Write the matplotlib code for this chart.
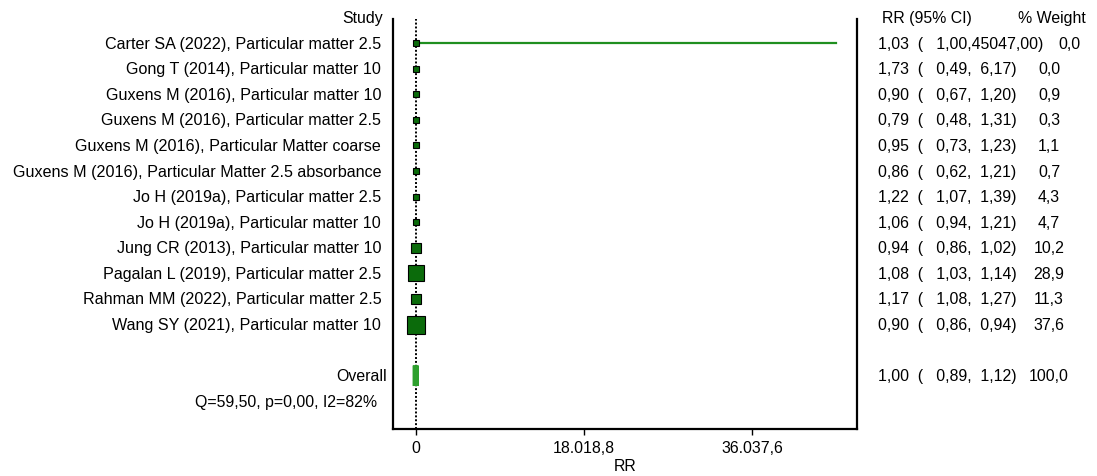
#Forest plot: contaminación del aire (PM) y RR
import matplotlib.pyplot as plt
import numpy as np
from matplotlib.ticker import FixedLocator, FixedFormatter

plt.rcParams['font.family'] = ['Liberation Sans', 'DejaVu Sans']
FS = 11.4  #tamaño de letra
FS_IZQ = 11.6  #tamaño de letra de los nombres

#datos de los estudios
estudios = [
    "Carter SA (2022), Particular matter 2.5",
    "Gong T (2014), Particular matter 10",
    "Guxens M (2016), Particular matter 10",
    "Guxens M (2016), Particular matter 2.5",
    "Guxens M (2016), Particular Matter coarse",
    "Guxens M (2016), Particular Matter 2.5 absorbance",
    "Jo H (2019a), Particular matter 2.5",
    "Jo H (2019a), Particular matter 10",
    "Jung CR (2013), Particular matter 10",
    "Pagalan L (2019), Particular matter 2.5",
    "Rahman MM (2022), Particular matter 2.5",
    "Wang SY (2021), Particular matter 10",
]
rr = [1.03, 1.73, 0.90, 0.79, 0.95, 0.86, 1.22, 1.06, 0.94, 1.08, 1.17, 0.90]
ic_inf = [1.00, 0.49, 0.67, 0.48, 0.73, 0.62, 1.07, 0.94, 0.86, 1.03, 1.08, 0.86]
ic_sup = [45047.00, 6.17, 1.20, 1.31, 1.23, 1.21, 1.39, 1.21, 1.02, 1.14, 1.27, 0.94]
peso = [0.0, 0.0, 0.9, 0.3, 1.1, 0.7, 4.3, 4.7, 10.2, 28.9, 11.3, 37.6]

#resultado global
rr_global = 1.00
ic_global = (0.89, 1.12)
peso_global = 100.0
heterogeneidad = "Q=59,50, p=0,00, I2=82%"

#eje x
ticks_x = [0, 18018.8, 36037.6]
etiquetas_x = ["0", "18.018,8", "36.037,6"]

verde_linea = '#1f8f1f'
verde_cuadro = '#0b6b0b'
verde_global = '#2ea02e'


def fmt(v, ancho=0):
    return f"{v:{ancho}.2f}".replace('.', ',')


fig = plt.figure(figsize=(10.97, 4.77), dpi=100)
ax = fig.add_axes([0.3585, 0.0985, 0.423, 0.8596])

n = len(estudios)
y = np.arange(n)
y_global = n + 1
y_het = n + 2

#linea de no efecto
ax.axvline(1, color='black', ls=(0, (1, 1)), lw=1.4, zorder=1)

#intervalos y cuadros
for i in range(n):
    ax.plot([ic_inf[i], ic_sup[i]], [y[i], y[i]], color=verde_linea, lw=1.6, zorder=2)
    lado_px = max(6.5, 2.85 * np.sqrt(peso[i]))
    ax.plot(rr[i], y[i], marker='s', ms=lado_px * 0.72, mfc=verde_cuadro,
            mec='black', mew=0.8, zorder=3)

#diamante global
h = 0.4
ax.fill([ic_global[0], rr_global, ic_global[1], rr_global],
        [y_global, y_global - h, y_global, y_global + h],
        facecolor=verde_global, edgecolor=verde_global, lw=4.2, joinstyle='bevel', zorder=3)

ax.set_xlim(-2400, 47280)
ax.set_ylim(15.08, -0.94)

ax.xaxis.set_major_locator(FixedLocator(ticks_x))
ax.xaxis.set_major_formatter(FixedFormatter(etiquetas_x))
ax.tick_params(axis='x', length=4, width=1, labelsize=FS, pad=4)
ax.set_yticks([])
ax.set_xlabel("RR", fontsize=FS, labelpad=2)

for lado in ['left', 'right', 'bottom']:
    ax.spines[lado].set_linewidth(1.6)
ax.spines['top'].set_visible(False)

#textos de la izquierda
tl = ax.get_yaxis_transform()
ax.text(-0.023, -1, "Study", transform=tl, ha='right', va='center', fontsize=FS)
for i, nombre in enumerate(estudios):
    ax.text(-0.026, y[i], nombre, transform=tl, ha='right', va='center', fontsize=FS_IZQ)
ax.text(-0.013, y_global, "Overall", transform=tl, ha='right', va='center', fontsize=FS)
ax.text(-0.034, y_het, heterogeneidad, transform=tl, ha='right', va='center', fontsize=FS)

#columnas de la derecha
ax.text(1.054, -1, "RR (95% CI)", transform=tl, ha='left', va='center', fontsize=FS)
ax.text(1.42, -1, "% Weight", transform=tl, ha='center', va='center', fontsize=FS)

fig.canvas.draw()
renderer = fig.canvas.get_renderer()
inv = ax.transAxes.inverted()

filas = list(zip(rr, ic_inf, ic_sup, peso, y))
filas.append((rr_global, ic_global[0], ic_global[1], peso_global, y_global))
for est, lo, hi, w, yy in filas:
    txt = f"{fmt(est)}  ( {fmt(lo, 6)},{fmt(hi, 6)})"
    t = ax.text(1.045, yy, txt, transform=tl, ha='left', va='center', fontsize=FS)
    fin = inv.transform(t.get_window_extent(renderer).get_points())[1][0]
    xw = max(1.413, fin + 0.055)
    ax.text(xw, yy, f"{w:.1f}".replace('.', ','), transform=tl, ha='center',
            va='center', fontsize=FS)

fig.savefig("out.png", dpi=100)
